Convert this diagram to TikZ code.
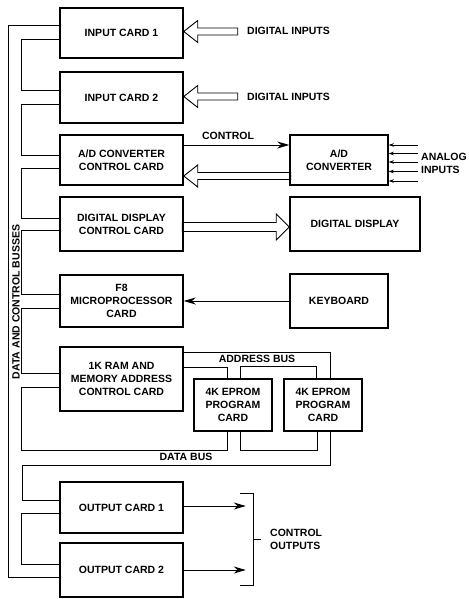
\documentclass[tikz,border=0pt]{standalone}
\usepackage{fontspec}
\setsansfont{Liberation Sans}
\usetikzlibrary{arrows.meta}

\begin{document}
\begin{tikzpicture}[
    x=1pt, y=1pt,
    card/.style={draw, line width=1.5pt, minimum width=123pt, minimum height=52pt, align=center, inner sep=2pt, font=\sffamily\bfseries\fontsize{10.5}{13}\selectfont},
    lbl/.style={inner sep=0pt, align=left, font=\sffamily\bfseries\fontsize{10.5}{13}\selectfont},
    bus/.style={line width=0.9pt},
    hollow/.style={line width=0.9pt, line join=miter},
    sig/.style={line width=0.9pt, -{Stealth[length=12pt, width=7pt]}},
    tinysig/.style={line width=0.7pt, -{Stealth[length=5pt, width=3.5pt]}}
]
    \useasboundingbox (0,0) rectangle (468,599);

    % cards on the bus
    \node[card, minimum height=50pt] (in1)    at (121.5,566)   {INPUT CARD 1};
    \node[card, minimum height=51pt] (in2)    at (121.5,501.5) {INPUT CARD 2};
    \node[card, minimum height=50pt] (adcctl) at (121.5,439)   {A/D CONVERTER\\CONTROL CARD};
    \node[card, minimum height=54pt] (ddctl)  at (121.5,375)   {DIGITAL DISPLAY\\CONTROL CARD};
    \node[card]                      (cpu)    at (121.5,298)   {F8\\MICROPROCESSOR\\CARD};
    \node[card, minimum height=64pt] (ram)    at (121.5,220)   {1K RAM AND\\MEMORY ADDRESS\\CONTROL CARD};
    \node[card, minimum height=51pt] (out1)   at (121.5,91.5)  {OUTPUT CARD 1};
    \node[card, minimum height=54pt] (out2)   at (121.5,29)    {OUTPUT CARD 2};

    % peripherals
    \node[card, minimum width=98pt, minimum height=50pt]  (adc)    at (339,439) {A/D\\CONVERTER};
    \node[card, minimum width=130pt, minimum height=54pt] (disp)   at (355,375) {DIGITAL DISPLAY};
    \node[card, minimum width=98pt, minimum height=54pt]  (kbd)    at (339,298) {KEYBOARD};
    \node[card, minimum width=78pt]                       (eprom1) at (233,194) {4K EPROM\\PROGRAM\\CARD};
    \node[card, minimum width=78pt]                       (eprom2) at (323,194) {4K EPROM\\PROGRAM\\CARD};

    % labels
    \node[lbl, anchor=west] (digin1)  at (247,568)   {DIGITAL INPUTS};
    \node[lbl, anchor=west] (digin2)  at (247,502.5) {DIGITAL INPUTS};
    \node[lbl]              (ctrllbl) at (228,463)   {CONTROL};
    \node[lbl, anchor=west] (anain)   at (421,435.5) {ANALOG\\INPUTS};
    \node[lbl]              (addrlbl) at (257,240)   {ADDRESS BUS};
    \node[lbl]              (datalbl) at (186,142)   {DATA BUS};
    \node[lbl, anchor=west] (ctrlout) at (270,60)    {CONTROL\\OUTPUTS};
    \node[lbl, rotate=90]   (buslbl)  at (16,297)    {DATA AND CONTROL BUSSES};

    % data and control busses
    \draw[bus] ([yshift=-7pt]out2.west) -- ++(-51,0) |- ([yshift=8pt]in1.west);
    \draw[bus] ([yshift=-6pt]in1.west)    -- ++(-38,0) |- ([yshift=7.5pt]in2.west);
    \draw[bus] ([yshift=-6.5pt]in2.west)  -- ++(-38,0) |- ([yshift=5pt]adcctl.west);
    \draw[bus] ([yshift=-8pt]adcctl.west) -- ++(-38,0) |- ([yshift=6pt]ddctl.west);
    \draw[bus] ([yshift=-6pt]ddctl.west)  -- ++(-38,0) |- ([yshift=7pt]cpu.west);
    \draw[bus] ([yshift=-7pt]cpu.west)    -- ++(-38,0) |- ([yshift=6pt]ram.west);
    \draw[bus] ([yshift=-8pt]ram.west)    -- ++(-38,0) -- ++(0,-63) -| ([xshift=-6pt]eprom1.south);
    \draw[bus] ([xshift=7pt]eprom1.south) -- ++(0,-19) -| ([xshift=-6pt]eprom2.south);
    \draw[bus] ([xshift=7pt]eprom2.south) -- ++(0,-34) -- ++(-308,0) |- ([yshift=7.5pt]out1.west);
    \draw[bus] ([yshift=-5.5pt]out1.west) -- ++(-38,0) |- ([yshift=5.5pt]out2.west);

    % address bus
    \draw[bus] ([yshift=27pt]ram.east) -| ([xshift=7pt]eprom2.north);
    \draw[bus] ([yshift=12pt]ram.east) -| ([xshift=-6pt]eprom1.north);
    \draw[bus] ([xshift=7pt]eprom1.north) -- ++(0,12) -| ([xshift=-7pt]eprom2.north);

    % wide arrows
    \draw[hollow] ([yshift=1.5pt]in1.east) -- ++(14,11) -- ++(0,-7.5) -- ++(40,0) -- ++(0,-7) -- ++(-40,0) -- ++(0,-7.5) -- cycle;
    \draw[hollow] ([yshift=1pt]in2.east) -- ++(14,11) -- ++(0,-7.5) -- ++(40,0) -- ++(0,-7) -- ++(-40,0) -- ++(0,-7.5) -- cycle;
    \draw[hollow] ([yshift=-16pt]adcctl.east) -- ++(14,11) -- ++(0,-7.5) -- ++(93,0) -- ++(0,-7) -- ++(-93,0) -- ++(0,-7.5) -- cycle;
    \draw[hollow] ([yshift=-3pt]disp.west) -- ++(-13,13) -- ++(0,-8.5) -- ++(-94,0) -- ++(0,-9) -- ++(94,0) -- ++(0,-8.5) -- cycle;

    % signal lines
    \draw[sig] ([yshift=15pt]adcctl.east) -- ([yshift=15pt]adc.west);
    \draw[sig] (kbd.west) -- (cpu.east);
    \foreach \dy in {15,6.5,-2,-11.5,-21}
        \draw[tinysig] ([shift={(29pt,\dy pt)}]adc.east) -- ([yshift=\dy pt]adc.east);

    % control outputs
    \coordinate (brtop) at (253,106);
    \coordinate (brbot) at (253,14);
    \coordinate (brmid) at (253,60);
    \draw[sig] ([yshift=1.5pt]out1.east) -- ++(62,0);
    \draw[sig] (out2.east) -- ++(62,0);
    \draw[bus] ([xshift=-13pt]brtop) -- (brtop) -- (brbot) -- ++(-13,0);
    \draw[bus] (brmid) -- ++(8,0);
\end{tikzpicture}
\end{document}
